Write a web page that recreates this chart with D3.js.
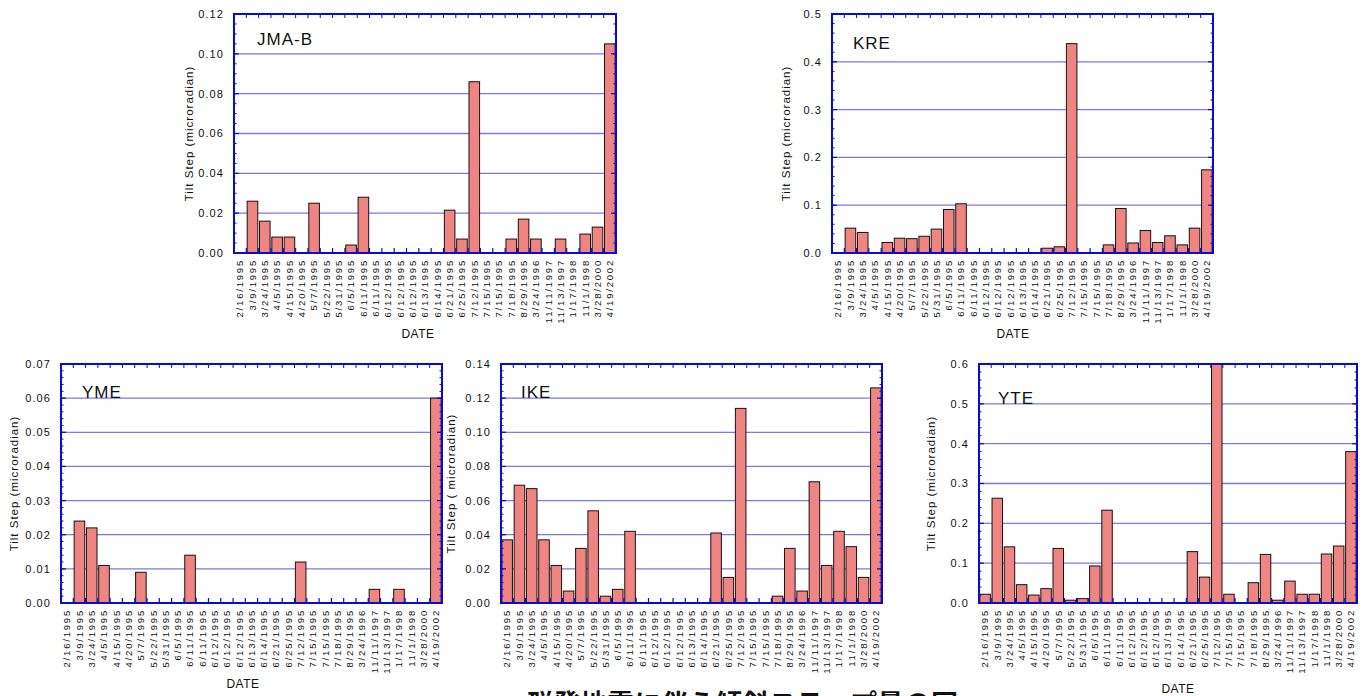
<!DOCTYPE html>
<html><head><meta charset="utf-8">
<script src="https://cdn.jsdelivr.net/npm/d3@7"></script>
<style>
html,body{margin:0;padding:0;background:#fff;overflow:hidden;}
svg{display:block;font-family:"Liberation Sans",Arial,sans-serif;}
</style></head>
<body><svg id="chart" width="1367" height="696"></svg>
<script>
const dates = ["2/16/1995","3/9/1995","3/24/1995","4/5/1995","4/15/1995","4/20/1995","5/7/1995","5/22/1995","5/31/1995","6/5/1995","6/11/1995","6/11/1995","6/12/1995","6/12/1995","6/12/1995","6/13/1995","6/14/1995","6/21/1995","6/25/1995","7/12/1995","7/15/1995","7/15/1995","7/18/1995","8/29/1995","3/24/1996","11/11/1997","11/13/1997","1/17/1998","11/1/1998","3/28/2000","4/19/2002"];

const jmaB = [0,0.026,0.016,0.008,0.008,0,0.025,0,0,0.004,0.028,0,0,0,0,0,0,0.0215,0.007,0.086,0,0,0.007,0.017,0.007,0,0.007,0,0.0095,0.013,0.105];
const kre  = [0,0.052,0.043,0,0.022,0.031,0.030,0.035,0.050,0.091,0.103,0,0,0,0,0,0,0.010,0.013,0.438,0,0,0.017,0.093,0.021,0.047,0.022,0.036,0.017,0.052,0.174];
const yme  = [0,0.024,0.022,0.011,0,0,0.009,0,0,0,0.014,0,0,0,0,0,0,0,0,0.012,0,0,0,0,0,0.004,0,0.004,0,0,0.060];
const ike  = [0.037,0.069,0.067,0.037,0.022,0.007,0.032,0.054,0.004,0.008,0.042,0,0,0,0,0,0,0.041,0.015,0.114,0,0,0.004,0.032,0.007,0.071,0.022,0.042,0.033,0.015,0.126];
const yte  = [0.022,0.263,0.141,0.046,0.020,0.036,0.137,0.007,0.011,0.093,0.233,0,0,0,0,0,0,0.129,0.065,0.600,0.022,0,0.051,0.122,0.007,0.055,0.022,0.022,0.123,0.143,0.380];

const stationNames = ["JMA-B","KRE","YME","IKE","YTE"];
const yMaxes = [0.12,0.5,0.07,0.14,0.6];
const yStepSizes = [0.02,0.1,0.01,0.02,0.1];
const yMinorCounts = [4,5,5,5,5];
const yTickFormats = [".2f",".1f",".2f",".2f",".1f"];
const yLabels = ["Tilt Step (microradian)","Tilt Step (microradian)","Tilt Step (microradian)","Tilt Step ( microradian)","Tilt Step (microradian)"];
const xLabel = "DATE";
const caption = "群発地震に伴う傾斜ステップ量の図";
const seriesValues = [jmaB,kre,yme,ike,yte];

// layout (positions only)
const layouts = [
  {x0:234,x1:616,y0:14,y1:253,tx:257,ty:45,lx:189,dx:418,dy:338},
  {x0:832,x1:1213,y0:14,y1:253,tx:853,ty:49,lx:786,dx:1013,dy:338},
  {x0:61,x1:442,y0:364,y1:603,tx:82,ty:398,lx:14,dx:243,dy:688},
  {x0:501,x1:882,y0:364,y1:603,tx:521,ty:398,lx:451,dx:670,dy:696},
  {x0:979,x1:1357,y0:364,y1:603,tx:998,ty:404,lx:931,dx:1178,dy:693}
];

const svg = d3.select("#chart");
const frameColor = "#0a0ad2";
const gridColor = "#7a7ae8";

stationNames.forEach((name,pi)=>{
  const L = layouts[pi];
  const vals = seriesValues[pi];
  const g = svg.append("g");
  const x = d3.scaleBand().domain(d3.range(dates.length)).range([L.x0,L.x1]).paddingInner(0.14).paddingOuter(0.07);
  const xb = d3.scaleLinear().domain([0,dates.length]).range([L.x0,L.x1]);
  const y = d3.scaleLinear().domain([0,yMaxes[pi]]).range([L.y1,L.y0]);
  const nMaj = Math.round(yMaxes[pi]/yStepSizes[pi]);
  const majors = d3.range(nMaj+1).map(i=>i*yStepSizes[pi]);
  const minors = d3.range(nMaj*yMinorCounts[pi]+1).map(i=>i*yStepSizes[pi]/yMinorCounts[pi]);

  g.selectAll(".grid").data(majors.slice(1,-1)).join("line")
    .attr("x1",L.x0).attr("x2",L.x1).attr("y1",d=>y(d)).attr("y2",d=>y(d))
    .attr("stroke",gridColor).attr("stroke-width",1.3);

  const clipId = "clip"+pi;
  g.append("clipPath").attr("id",clipId).append("rect")
    .attr("x",L.x0).attr("y",L.y0).attr("width",L.x1-L.x0).attr("height",L.y1-L.y0);
  const bg = g.append("g").attr("clip-path",`url(#${clipId})`);
  bg.selectAll("rect.bar").data(vals.map((v,i)=>({v,i})).filter(d=>d.v>0)).join("rect")
    .attr("x",d=>x(d.i)).attr("width",x.bandwidth())
    .attr("y",d=>y(Math.min(d.v,yMaxes[pi]))).attr("height",d=>L.y1-y(Math.min(d.v,yMaxes[pi])))
    .attr("fill","#ef8582").attr("stroke","#1a1010").attr("stroke-width",1);

  const bounds = d3.range(1,dates.length);
  g.selectAll(".tt").data(bounds).join("line")
    .attr("x1",d=>xb(d)).attr("x2",d=>xb(d)).attr("y1",L.y0).attr("y2",L.y0+4)
    .attr("stroke",frameColor).attr("stroke-width",1);
  g.selectAll(".bt").data(bounds).join("line")
    .attr("x1",d=>xb(d)).attr("x2",d=>xb(d)).attr("y1",L.y1).attr("y2",L.y1-5)
    .attr("stroke",frameColor).attr("stroke-width",1.2);

  [[L.x0,1],[L.x1,-1]].forEach(([ax,dir])=>{
    g.selectAll(null).data(minors).join("line")
      .attr("x1",ax).attr("x2",ax+dir*2.5).attr("y1",d=>y(d)).attr("y2",d=>y(d))
      .attr("stroke",frameColor).attr("stroke-width",1);
    g.selectAll(null).data(majors).join("line")
      .attr("x1",ax).attr("x2",ax+dir*5).attr("y1",d=>y(d)).attr("y2",d=>y(d))
      .attr("stroke",frameColor).attr("stroke-width",1.2);
  });

  g.append("rect").attr("x",L.x0).attr("y",L.y0).attr("width",L.x1-L.x0).attr("height",L.y1-L.y0)
    .attr("fill","none").attr("stroke",frameColor).attr("stroke-width",2);

  const fmt = d3.format(yTickFormats[pi]);
  g.selectAll(".yl").data(majors).join("text")
    .attr("x",L.x0-10).attr("y",d=>y(d)).attr("dy","0.36em")
    .attr("text-anchor","end").attr("font-size",11).attr("letter-spacing","1.1px")
    .attr("fill","#111").text(d=>fmt(d));

  g.selectAll(".xl").data(dates.map((d,i)=>({d,i}))).join("text")
    .attr("transform",d=>`translate(${x(d.i)+x.bandwidth()/2},${L.y1+6}) rotate(-90)`)
    .attr("text-anchor","end").attr("dy","0.35em")
    .attr("font-size",9.5).attr("letter-spacing","1.8px").attr("fill","#111")
    .text(d=>d.d);

  g.append("text")
    .attr("transform",`translate(${L.lx},${(L.y0+L.y1)/2}) rotate(-90)`)
    .attr("text-anchor","middle").attr("dy","0.35em")
    .attr("font-size",11.5).attr("letter-spacing","1px").attr("fill","#111")
    .text(yLabels[pi]);

  g.append("text").attr("x",L.dx).attr("y",L.dy).attr("text-anchor","middle")
    .attr("font-size",12).attr("letter-spacing","0.5px").attr("fill","#111").text(xLabel);

  g.append("text").attr("x",L.tx).attr("y",L.ty)
    .attr("font-size",17).attr("letter-spacing","1px").attr("fill","#111").text(name);
});

// caption box (partly outside the window, as in the original page)
svg.append("rect").attr("x",505).attr("y",687).attr("width",470).attr("height",20).attr("fill","#fff");
svg.append("text").attr("x",742).attr("y",714).attr("text-anchor","middle")
  .attr("font-family","'Noto Sans CJK JP',sans-serif").attr("font-weight","bold")
  .attr("font-size",27).attr("fill","#111").text(caption);
</script>
</body></html>
